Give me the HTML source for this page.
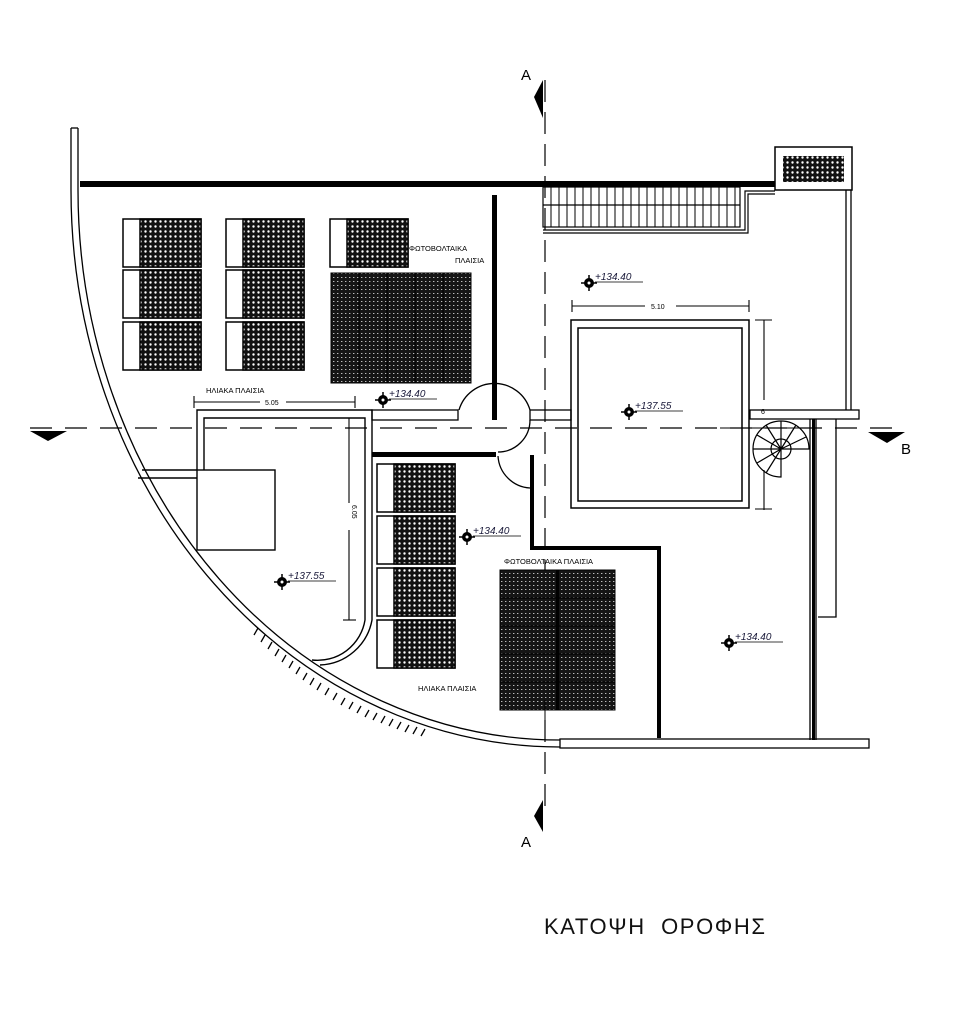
<!DOCTYPE html>
<html><head><meta charset="utf-8">
<style>
html,body{margin:0;padding:0;background:#fff;}
svg{display:block;}
text{font-family:"Liberation Sans",sans-serif;}
</style></head>
<body>
<svg width="955" height="1024" viewBox="0 0 955 1024" xmlns="http://www.w3.org/2000/svg">
<defs>
<pattern id="h1" width="5" height="5" patternUnits="userSpaceOnUse">
<rect width="5" height="5" fill="#111"/>
<circle cx="2.5" cy="2.5" r="1.2" fill="#fff"/>
</pattern>
<pattern id="h2" width="4" height="4" patternUnits="userSpaceOnUse">
<rect width="4" height="4" fill="#151515"/>
<rect x="1" y="1" width="1.4" height="1" fill="#bbb"/>
</pattern>
<g id="pan">
<rect x="0" y="0" width="78" height="48" fill="#fff" stroke="#000" stroke-width="1.5"/>
<rect x="17" y="0" width="61" height="48" fill="url(#h1)" stroke="#000" stroke-width="1.5"/>
</g>
<g id="lvl">
<circle cx="0" cy="0" r="5" fill="#000"/>
<line x1="-8" y1="0" x2="8" y2="0" stroke="#000" stroke-width="1.5"/>
<line x1="0" y1="-8" x2="0" y2="8" stroke="#000" stroke-width="1.5"/>
<circle cx="0" cy="0" r="1.5" fill="#fff"/>
</g>
</defs>

<!-- section A -->
<line x1="545" y1="80" x2="545" y2="810" stroke="#000" stroke-width="1.2" stroke-dasharray="22,10"/>
<polygon points="534,97 543,80 543,118" fill="#000"/>
<text x="521" y="80" font-size="15" fill="#000">A</text>
<polygon points="534,816 543,800 543,832" fill="#000"/>
<text x="521" y="847" font-size="15" fill="#000">A</text>
<!-- section B -->
<line x1="30" y1="428" x2="900" y2="428" stroke="#000" stroke-width="1.2" stroke-dasharray="22,13"/>
<polygon points="30,431 67,431 48,441" fill="#000"/>
<polygon points="868,432 905,432 887,443" fill="#000"/>
<text x="901" y="454" font-size="15" fill="#000">B</text>

<!-- curved wall -->
<g fill="none" stroke="#000" stroke-width="1.3">
<path d="M71,128 L71,190 A489,557 0 0 0 560,747"/>
<path d="M78,128 L78,190 A482,550 0 0 0 560,740"/>
<line x1="71" y1="128" x2="78" y2="128"/>
</g>
<!-- hatch along curve -->
<g stroke="#000" stroke-width="1.3">
<path d="M258,628 l-4,7 M265,635 l-4,7 M272,642 l-4,7 M279,649 l-4,7 M286,655 l-4,7 M293,661 l-4,7 M300,667 l-4,7 M307,673 l-4,7 M314,678 l-4,7 M321,683 l-4,7 M329,688 l-4,7 M337,693 l-4,7 M345,698 l-4,7 M353,702 l-4,7 M361,706 l-4,7 M369,710 l-4,7 M377,713 l-4,7 M385,716 l-4,7 M393,719 l-4,7 M401,722 l-4,7 M409,725 l-4,7 M417,727 l-4,7 M425,729 l-4,7"/>
</g>

<!-- top wall -->
<rect x="80" y="181" width="695" height="6" fill="#000"/>
<!-- thick vertical wall -->
<rect x="492" y="195" width="5" height="225" fill="#000"/>

<!-- stairs -->
<g fill="none" stroke="#000" stroke-width="1.2">
<rect x="543" y="187" width="197" height="40"/>
<line x1="543" y1="205" x2="740" y2="205"/>
<path d="M543,230 L745,230 L745,191 L775,191"/>
<path d="M543,233 L748,233 L748,194 L775,194"/>
</g>
<g stroke="#000" stroke-width="1">
<path d="M551,187v40M559,187v40M567,187v40M575,187v40M583,187v40M591,187v40M599,187v40M607,187v40M615,187v40M623,187v40M631,187v40M639,187v40M647,187v40M655,187v40M663,187v40M671,187v40M679,187v40M687,187v40M695,187v40M703,187v40M711,187v40M719,187v40M727,187v40M735,187v40"/>
</g>
<!-- top right box -->
<rect x="775" y="147" width="77" height="43" fill="#fff" stroke="#000" stroke-width="1.5"/>
<rect x="783" y="156" width="61" height="26" fill="url(#h1)"/>
<!-- right double wall -->
<g stroke="#000" stroke-width="1.3" fill="none">
<line x1="846" y1="190" x2="846" y2="410"/>
<line x1="851" y1="190" x2="851" y2="410"/>
<rect x="750" y="410" width="109" height="9"/>
<line x1="810" y1="419" x2="810" y2="740"/>
<line x1="816" y1="419" x2="816" y2="740"/>
<path d="M836,419 L836,617 L818,617"/>
<rect x="560" y="739" width="309" height="9"/>
</g>
<rect x="812" y="419" width="3" height="321" fill="#000"/>

<!-- central square -->
<g fill="none" stroke="#000" stroke-width="1.5">
<rect x="571" y="320" width="178" height="188"/>
<rect x="578" y="328" width="164" height="173"/>
</g>
<!-- dim 5.10 -->
<g stroke="#000" stroke-width="1.1">
<line x1="572" y1="306" x2="645" y2="306"/><line x1="676" y1="306" x2="749" y2="306"/>
<line x1="572" y1="300" x2="572" y2="312"/><line x1="749" y1="300" x2="749" y2="312"/>
<line x1="764" y1="320" x2="764" y2="400"/><line x1="764" y1="470" x2="764" y2="510"/>
<line x1="755" y1="320" x2="772" y2="320"/><line x1="755" y1="509" x2="772" y2="509"/>
</g>
<text x="651" y="309" font-size="7" fill="#000">5.10</text>
<text x="761" y="414" font-size="7" fill="#000">6</text>

<!-- spiral stair -->
<g fill="none" stroke="#000" stroke-width="1.2">
<path d="M781,449 L809,449 A28,28 0 1 0 781,477 Z"/>
<path d="M781,449 L757,435 M781,449 L766,425 M781,449 L781,421 M781,449 L796,425 M781,449 L806,437 M781,449 L753,449 M781,449 L757,463 M781,449 L766,473"/>
<circle cx="781" cy="449" r="10"/>
</g>
<line x1="720" y1="428" x2="810" y2="428" stroke="#000" stroke-width="1"/>

<!-- door / center walls -->
<g fill="none" stroke="#000" stroke-width="1.3">
<rect x="372" y="410" width="86" height="10"/>
<rect x="530" y="410" width="41" height="10"/>
<path d="M459,410 A37,37 0 0 1 530,410"/>
<path d="M530,420 A32,32 0 0 1 498,452"/>
<path d="M498,456 A34,34 0 0 0 530,488"/>
</g>
<rect x="372" y="452" width="124" height="5" fill="#000"/>
<path d="M532,455 L532,548 L659,548 L659,738" fill="none" stroke="#000" stroke-width="4"/>

<!-- left room -->
<g fill="none" stroke="#000" stroke-width="1.4">
<path d="M197,470 L197,410 L372,410 L372,620 A55,55 0 0 1 320,665"/>
<path d="M204,470 L204,418 L365,418 L365,620 A48,48 0 0 1 312,660"/>
<rect x="197" y="470" width="78" height="80"/>
<line x1="142" y1="470" x2="197" y2="470"/>
<line x1="138" y1="478" x2="197" y2="478"/>
</g>
<!-- dims 5.05 / 6.05 -->
<g stroke="#000" stroke-width="1.1">
<line x1="194" y1="402" x2="260" y2="402"/><line x1="286" y1="402" x2="355" y2="402"/>
<line x1="194" y1="396" x2="194" y2="408"/><line x1="355" y1="396" x2="355" y2="408"/>
<line x1="349" y1="418" x2="349" y2="503"/><line x1="349" y1="530" x2="349" y2="620"/>
<line x1="343" y1="620" x2="356" y2="620"/>
</g>
<text x="265" y="405" font-size="7" fill="#000">5.05</text>
<text x="0" y="0" font-size="7" fill="#000" transform="translate(352,505) rotate(90)">6.05</text>

<!-- panels -->
<use href="#pan" x="123" y="219"/><use href="#pan" x="123" y="270"/><use href="#pan" x="123" y="322"/>
<use href="#pan" x="226" y="219"/><use href="#pan" x="226" y="270"/><use href="#pan" x="226" y="322"/>
<use href="#pan" x="330" y="219"/>
<use href="#pan" x="377" y="464"/><use href="#pan" x="377" y="516"/><use href="#pan" x="377" y="568"/><use href="#pan" x="377" y="620"/>
<!-- dark panels -->
<rect x="331" y="273" width="140" height="110" fill="url(#h2)" stroke="#000"/>
<g stroke="#000" stroke-width="1.2">
<path d="M359,273v110M387,273v110M415,273v110M443,273v110"/>
</g>
<rect x="500" y="570" width="115" height="140" fill="url(#h2)" stroke="#000"/>
<g stroke="#000" stroke-width="1.2">
<path d="M500,598h115M500,626h115M500,654h115M500,682h115"/>
</g>
<rect x="556" y="570" width="3" height="140" fill="#000"/>
<line x1="545" y1="700" x2="545" y2="722" stroke="#000"/>

<!-- labels -->
<g font-size="7.5" fill="#000">
<text x="409" y="251">ΦΩΤΟΒΟΛΤΑΙΚΑ</text>
<text x="455" y="263">ΠΛΑΙΣΙΑ</text>
<text x="206" y="393">ΗΛΙΑΚΑ ΠΛΑΙΣΙΑ</text>
<text x="504" y="564">ΦΩΤΟΒΟΛΤΑΙΚΑ ΠΛΑΙΣΙΑ</text>
<text x="418" y="691">ΗΛΙΑΚΑ ΠΛΑΙΣΙΑ</text>
</g>
<!-- levels -->
<g font-size="10" font-style="italic" fill="#1a1a3a" stroke="none">
<use href="#lvl" x="589" y="283"/><text x="595" y="280">+134.40</text>
<use href="#lvl" x="629" y="412"/><text x="635" y="409">+137.55</text>
<use href="#lvl" x="383" y="400"/><text x="389" y="397">+134.40</text>
<use href="#lvl" x="467" y="537"/><text x="473" y="534">+134.40</text>
<use href="#lvl" x="282" y="582"/><text x="288" y="579">+137.55</text>
<use href="#lvl" x="729" y="643"/><text x="735" y="640">+134.40</text>
</g>
<g stroke="#000" stroke-width="0.8">
<path d="M595,282h48M635,411h48M389,399h48M473,536h48M288,581h48M735,642h48"/>
</g>

<text x="544" y="934" font-size="22" fill="#111" textLength="221" lengthAdjust="spacing" xml:space="preserve">ΚΑΤΟΨΗ  ΟΡΟΦΗΣ</text>
</svg>
</body></html>
